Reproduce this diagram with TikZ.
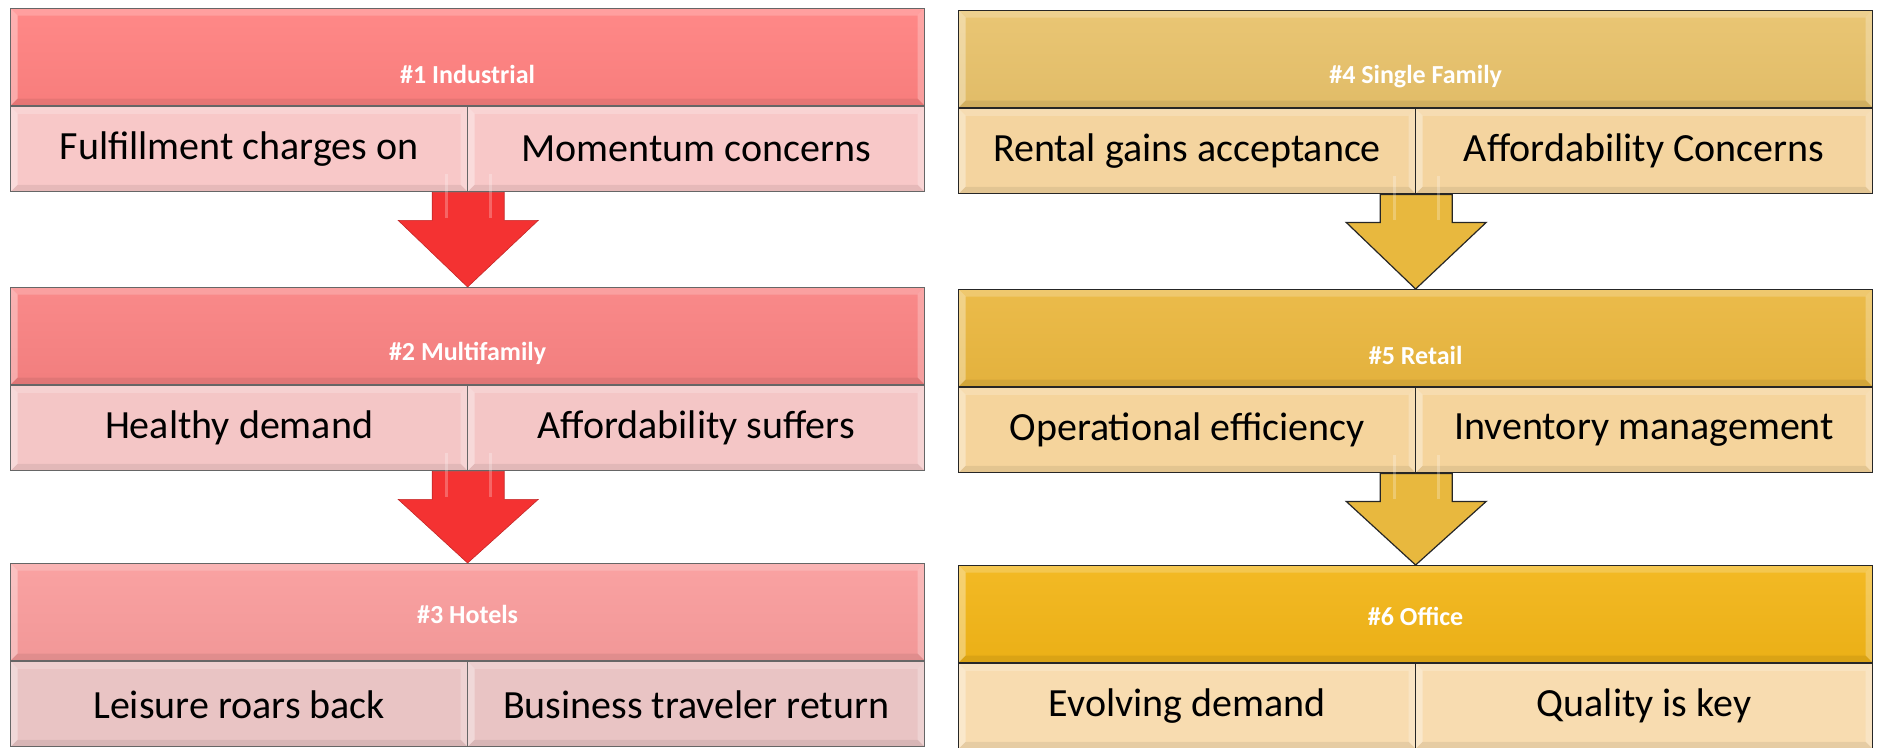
\documentclass[tikz,border=0pt]{standalone}
\usepackage{fontspec}
\setmainfont{Carlito}
\usetikzlibrary{calc}
\newcommand{\drawsector}[9]{ % pos_x, pos_y, id, title, left text, right text, head colour, cell colour, title shift
  \node[head, top color=#7!94!white, bottom color=#7!97!black, anchor=north west] (#3_head) at (#1,#2) {};
  \node[title] (#3_title) at ($ (#3_head.center) + (0,#9) $) {#4};
  % Two cells below the header
  \node[cell, fill=#8, anchor=north west] (#3_left) at (#3_head.south west) {#5};
  \node[cell, fill=#8, anchor=north east] (#3_right) at (#3_head.south east) {#6};
  % Bottom centre, where the next arrow starts
  \coordinate (#3_base) at (#3_left.south east);
}
\newcommand{\drawarrow}[3]{ % from id, to id, style
  \draw[#3] ($ (#1_base) + (-36,0) $) -- ($ (#1_base) + (-36,28) $) -- ($ (#1_base) + (-70,28) $)
    -- (#2_head.north) -- ($ (#1_base) + (70,28) $) -- ($ (#1_base) + (36,28) $) -- ($ (#1_base) + (36,0) $) -- cycle;
  % Glossy stripes on the shaft
  \draw[white, opacity=0.25, line width=3pt] ($ (#1_base) + (-22,-18) $) -- ($ (#1_base) + (-22,26) $);
  \draw[white, opacity=0.25, line width=3pt] ($ (#1_base) + (22,-18) $) -- ($ (#1_base) + (22,26) $);
}

\begin{document}
\begin{tikzpicture}[x=1pt, y=-1pt]

  % Styles for headers, cells and arrows
  \tikzset{
    bevel/.style={path picture={
      \coordinate (bsw) at (path picture bounding box.south west);
      \coordinate (bse) at (path picture bounding box.south east);
      \coordinate (bne) at (path picture bounding box.north east);
      \coordinate (bnw) at (path picture bounding box.north west);
      \fill[white, opacity=0.35] (bsw) -- (bnw) -- ($ (bnw) + (7pt,-7pt) $) -- ($ (bsw) + (7pt,7pt) $) -- cycle;
      \fill[white, opacity=0.2] (bnw) -- (bne) -- ($ (bne) + (-7pt,-7pt) $) -- ($ (bnw) + (7pt,-7pt) $) -- cycle;
      \fill[white, opacity=0.25] (bne) -- (bse) -- ($ (bse) + (-7pt,7pt) $) -- ($ (bne) + (-7pt,-7pt) $) -- cycle;
      \fill[black, opacity=0.07] (bse) -- (bsw) -- ($ (bsw) + (7pt,7pt) $) -- ($ (bse) + (-7pt,7pt) $) -- cycle;
    }},
    head/.style={draw=frame, line width=1.2pt, minimum width=914pt, minimum height=97pt, inner sep=0pt, bevel},
    cell/.style={draw=frame, line width=1.2pt, minimum width=457pt, minimum height=85pt, inner sep=0pt, bevel,
      font=\fontsize{40}{44}\selectfont},
    title/.style={text=white, font=\bfseries\fontsize{26}{30}\selectfont, inner sep=1pt},
    redarrow/.style={fill=redtip, draw=redtip!80!black, line width=0.6pt},
    goldarrow/.style={fill=goldtip, draw=black!85, line width=1.2pt}
  }

  % Colours
  \definecolor{redtip}{HTML}{F43232}
  \definecolor{goldtip}{HTML}{E8B83E}
  \definecolor{redA}{HTML}{FF8180}
  \definecolor{redB}{HTML}{F98282}
  \definecolor{redC}{HTML}{F99C9C}
  \definecolor{pinkA}{HTML}{F8C8C8}
  \definecolor{pinkB}{HTML}{F4C6C6}
  \definecolor{pinkC}{HTML}{E9C4C4}
  \definecolor{goldA}{HTML}{E8C26B}
  \definecolor{goldB}{HTML}{EAB73F}
  \definecolor{goldC}{HTML}{F2B517}
  \definecolor{sandA}{HTML}{F4D49F}
  \definecolor{sandB}{HTML}{F5D49C}
  \definecolor{sandC}{HTML}{F8DCB0}

  \useasboundingbox (0,0) rectangle (1878,747);

  % Left column
  \colorlet{frame}{black!60}
  \drawsector{10}{8}{s1}{\#1 Industrial}{Fulfillment charges on}{Momentum concerns}{redA}{pinkA}{17}
  \drawsector{10}{287}{s2}{\#2 Multifamily}{Healthy demand}{Affordability suffers}{redB}{pinkB}{17}
  \drawsector{10}{563}{s3}{\#3 Hotels}{Leisure roars back}{Business traveler return}{redC}{pinkC}{2}

  % Right column
  \colorlet{frame}{black!85}
  \drawsector{958}{10}{s4}{\#4 Single Family}{Rental gains acceptance}{Affordability Concerns}{goldA}{sandA}{17}
  \drawsector{958}{289}{s5}{\#5 Retail}{Operational efficiency}{Inventory management}{goldB}{sandB}{17}
  \drawsector{958}{565}{s6}{\#6 Office}{Evolving demand}{Quality is key}{goldC}{sandC}{2}

  % Arrows between the sectors
  \drawarrow{s1}{s2}{redarrow}
  \drawarrow{s2}{s3}{redarrow}
  \drawarrow{s4}{s5}{goldarrow}
  \drawarrow{s5}{s6}{goldarrow}

\end{tikzpicture}
\end{document}
